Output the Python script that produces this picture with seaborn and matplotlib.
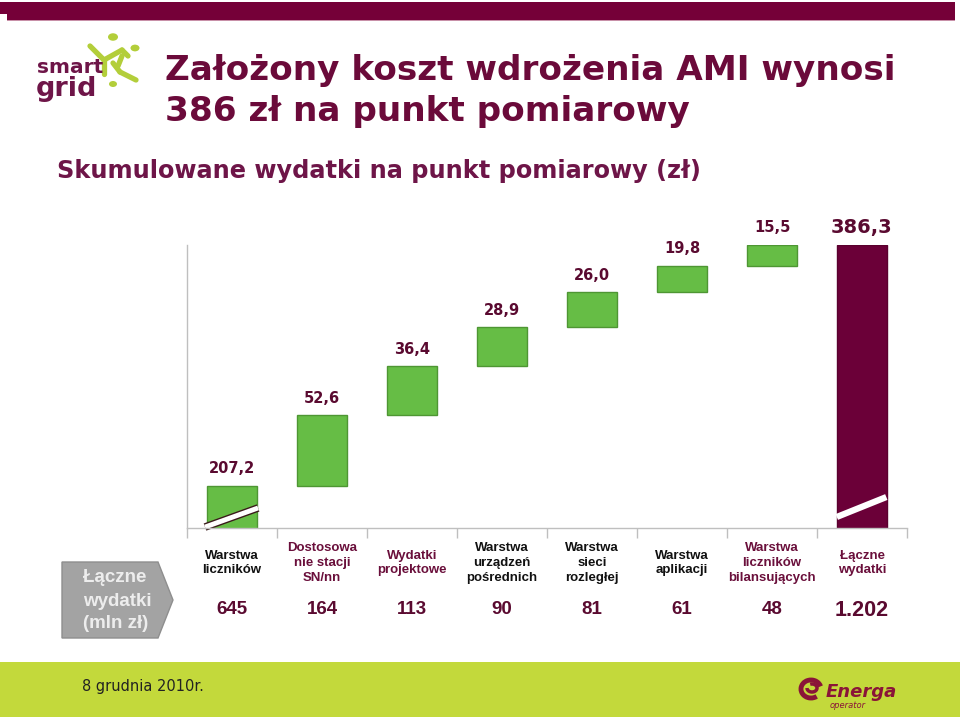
import matplotlib
matplotlib.use("Agg")
import matplotlib.pyplot as plt
import matplotlib.transforms as mtransforms
from matplotlib.patches import Polygon, Rectangle, Circle, Arc
import seaborn as sns
import numpy as np

# ---------------- data ----------------
categories = ["Warstwa\nliczników", "Dostosowa\nnie stacji\nSN/nn", "Wydatki\nprojektowe",
              "Warstwa\nurządzeń\npośrednich", "Warstwa\nsieci\nrozległej", "Warstwa\naplikacji",
              "Warstwa\nliczników\nbilansujących", "Łączne\nwydatki"]
increments = [207.2, 52.6, 36.4, 28.9, 26.0, 19.8, 15.5]
total_value = 386.3
value_labels = ["207,2", "52,6", "36,4", "28,9", "26,0", "19,8", "15,5", "386,3"]
spend_mln = ["645", "164", "113", "90", "81", "61", "48", "1.202"]
label_colors = ["#111111", "#6A0F3B", "#6A0F3B", "#111111", "#111111", "#111111", "#6A0F3B", "#6A0F3B"]

# ------------- derived waterfall -------------
cum = np.cumsum(increments)
tops = list(cum) + [total_value]
bottoms = list(cum - np.array(increments)) + [0.0]
heights = list(increments) + [total_value]

MAROON = "#6B0A3A"
GREEN = "#66BD45"
TOTAL = "#6B0038"

sns.set_theme(style="white")
plt.rcParams['font.family'] = ['DejaVu Sans']

fig = plt.figure(figsize=(9.6, 7.2), dpi=100)
fig.patch.set_facecolor("white")

W, H = 960.0, 720.0
def fx(px): return px / W
def fy(py): return 1 - py / H

ax = fig.add_axes([fx(187), fy(528), 720 / W, 283 / H])
colors = [GREEN] * 7 + [TOTAL]
sns.barplot(x=list(range(8)), y=tops, hue=list(range(8)), palette=colors,
            legend=False, width=0.555, ax=ax, saturation=1)
for i, p in enumerate(ax.patches):
    p.set_y(bottoms[i])
    p.set_height(heights[i])
    if i < 7:
        p.set_edgecolor("#4E9633")
    else:
        p.set_edgecolor("#5A002E")
    p.set_linewidth(1)

ax.set_xlim(-0.5, 7.5)
ax.set_ylim(176, 386.3)
ax.set_xlabel("")
ax.set_ylabel("")
ax.set_yticks([])
ax.set_xticks([])
ax.set_xticks(np.arange(-0.5, 8.0, 1.0), minor=True)
ax.tick_params(axis="x", which="minor", length=7, color="#BFBFBF", width=1, direction="out", bottom=True)
for s in ["top", "right"]:
    ax.spines[s].set_visible(False)
for s in ["left", "bottom"]:
    ax.spines[s].set_color("#BFBFBF")
    ax.spines[s].set_linewidth(1)

# value labels
for i in range(8):
    big = (i == 7)
    ax.annotate(value_labels[i], (i, tops[i]), xytext=(0, 6 if big else 7),
                textcoords="offset points", ha="center", va="bottom",
                fontsize=14 if big else 10.5, fontweight="bold", color="#5A0A30",
                annotation_clip=False)

# break marks
ax.plot([-0.3, 0.29], [176.7, 190.9], color="#3A1A1A", lw=5.5, solid_capstyle="butt", clip_on=False)
ax.plot([-0.3, 0.29], [176.7, 190.9], color="white", lw=3.5, solid_capstyle="butt", clip_on=False)
ax.plot([7 - 0.28, 7 + 0.27], [184.2, 199.0], color="white", lw=4.5, solid_capstyle="butt", clip_on=False)

# category labels and numbers below
trans = mtransforms.blended_transform_factory(ax.transData, fig.transFigure)
for i in range(8):
    ax.text(i, fy(563), categories[i], transform=trans, ha="center", va="center",
            fontsize=9.5, fontweight="bold", color=label_colors[i], linespacing=1.3,
            family="Liberation Sans")
    ax.text(i, fy(611 if i == 7 else 610), spend_mln[i], transform=trans, ha="center", va="center",
            fontsize=15.5 if i == 7 else 13.5, fontweight="bold", color="#5A0A30",
            family="Liberation Sans")

# gray arrow box
poly = Polygon([(fx(62), fy(562)), (fx(158), fy(562)), (fx(173), fy(600)),
                (fx(158), fy(638)), (fx(62), fy(638))], closed=True,
               transform=fig.transFigure, facecolor="#A3A3A3", edgecolor="#8E8E8E", lw=1)
fig.add_artist(poly)
for txt, py in [("Łączne", 578), ("wydatki", 602), ("(mln zł)", 624)]:
    fig.text(fx(83), fy(py), txt, ha="left", va="center", fontsize=13.5, fontweight="bold",
             color="#EDEDED", family="Liberation Sans")

# titles
fig.text(fx(165), fy(80), "Założony koszt wdrożenia AMI wynosi", ha="left", va="baseline",
         fontsize=24.7, fontweight="bold", color=MAROON)
fig.text(fx(165), fy(121), "386 zł na punkt pomiarowy", ha="left", va="baseline",
         fontsize=24.7, fontweight="bold", color=MAROON)
fig.text(fx(57), fy(178), "Skumulowane wydatki na punkt pomiarowy (zł)", ha="left", va="baseline",
         fontsize=17.3, fontweight="bold", color="#6E1548")

# top band
fig.add_artist(Rectangle((fx(7), fy(20)), fx(948), 18 / H, transform=fig.transFigure,
                         facecolor="#750038", edgecolor="none"))
fig.add_artist(Rectangle((0, fy(14)), fx(7), 12 / H, transform=fig.transFigure,
                         facecolor="#750038", edgecolor="none"))
fig.add_artist(Rectangle((fx(7), fy(21)), fx(948), 1 / H, transform=fig.transFigure,
                         facecolor="#C890A8", edgecolor="none"))

# smart grid logo
fig.text(fx(37), fy(73), "smart", ha="left", va="baseline", fontsize=14.5, fontweight="bold", color="#6E1548")
fig.text(fx(36), fy(96), "grid", ha="left", va="baseline", fontsize=19.5, fontweight="bold", color="#6E1548")
LIME = "#B3CE3A"
for (cx, cy, r) in [(113, 37, 5), (135, 48, 4.5), (113, 84, 4)]:
    fig.add_artist(Circle((fx(cx), fy(cy)), r / W, transform=fig.transFigure,
                          facecolor=LIME, edgecolor="none"))
for (x0, y0, x1, y1) in [(90, 46, 104, 60), (104, 60, 122, 50), (122, 50, 128, 56),
                         (104, 60, 104, 74), (113, 63, 120, 72), (120, 72, 136, 80),
                         (122, 56, 118, 66)]:
    fig.add_artist(plt.Line2D([fx(x0), fx(x1)], [fy(y0), fy(y1)], transform=fig.transFigure,
                              color=LIME, lw=3.8, solid_capstyle="round"))

# footer
fig.add_artist(Rectangle((0, fy(717)), 1, 55 / H, transform=fig.transFigure,
                         facecolor="#C3D93B", edgecolor="none"))
fig.text(fx(82), fy(686), "8 grudnia 2010r.", ha="left", va="center", fontsize=10.5, color="#222222")
fig.add_artist(Arc((fx(811), fy(689)), 20 / W, 18 / H, theta1=20, theta2=300,
                   transform=fig.transFigure, color="#8A1538", lw=3.5))
fig.add_artist(Arc((fx(812), fy(688)), 10 / W, 8 / H, theta1=180, theta2=470,
                   transform=fig.transFigure, color="#8A1538", lw=2.5))
fig.text(fx(826), fy(692), "Energa", ha="left", va="center", fontsize=13, fontweight="bold",
         style="italic", color="#8A1538")
fig.text(fx(830), fy(705), "operator", ha="left", va="center", fontsize=6, style="italic", color="#8A1538")

fig.savefig("out.png", dpi=100, facecolor="white")
